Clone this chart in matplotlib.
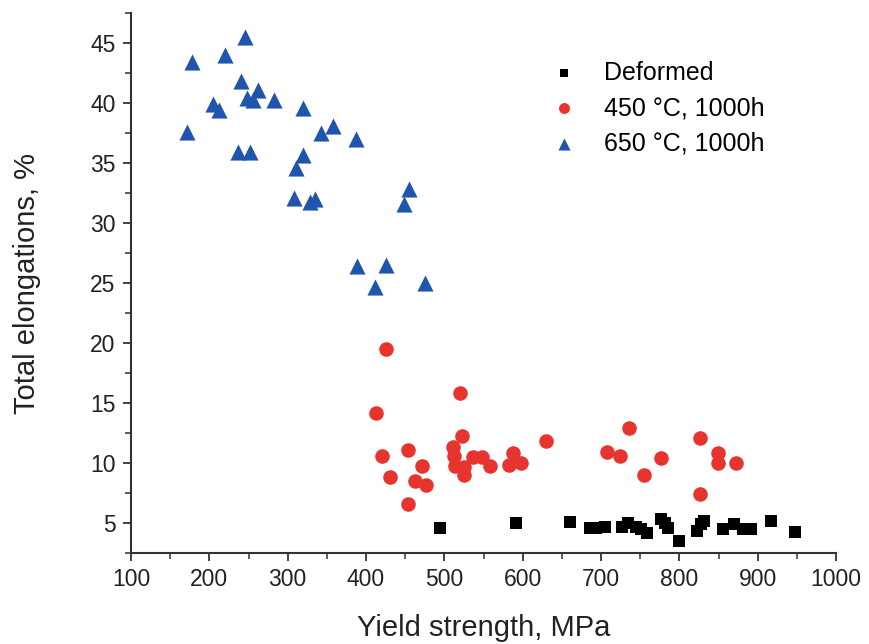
import matplotlib
matplotlib.use("Agg")
import matplotlib.pyplot as plt
from matplotlib.ticker import MultipleLocator

plt.rcParams['font.family'] = ['Liberation Sans', 'DejaVu Sans']

# Deformed
def_x = [495, 592, 660, 686, 694, 705, 727, 735, 744, 751, 759, 776, 781, 785, 800,
         823, 828, 832, 856, 870, 881, 891, 917, 948]
def_y = [4.6, 5.0, 5.1, 4.6, 4.6, 4.7, 4.7, 5.0, 4.7, 4.5, 4.2, 5.3, 5.0, 4.6, 3.5,
         4.3, 4.9, 5.2, 4.5, 4.95, 4.5, 4.5, 5.2, 4.25]

# 450 C, 1000h
h450_x = [426, 520, 413, 522, 630, 421, 453, 471, 431, 463, 477, 453, 511, 512, 514,
          525, 525, 537, 548, 558, 587, 583, 598, 736, 707, 724, 755, 777, 826, 849,
          849, 872, 826]
h450_y = [19.5, 15.8, 14.2, 12.25, 11.8, 10.6, 11.1, 9.75, 8.8, 8.5, 8.2, 6.55, 11.35, 10.6, 9.75,
          9.65, 9.0, 10.5, 10.5, 9.75, 10.8, 9.8, 10.0, 12.95, 10.95, 10.6, 8.97, 10.4, 12.05, 10.8,
          10.0, 10.0, 7.4]

# 650 C, 1000h
h650_x = [178, 220, 245, 172, 205, 212, 241, 248, 256, 262, 283, 320, 236, 252, 342,
          358, 387, 320, 310, 308, 329, 335, 448, 455, 389, 425, 411, 475]
h650_y = [43.4, 44.0, 45.5, 37.6, 39.9, 39.4, 41.8, 40.4, 40.25, 41.05, 40.25, 39.6, 35.9, 35.9, 37.5,
          38.1, 37.0, 35.7, 34.6, 32.1, 31.75, 32.0, 31.6, 32.8, 26.4, 26.5, 24.7, 25.0]

fig = plt.figure(figsize=(8.7, 6.44), dpi=100)
ax = fig.add_axes([0.1506, 0.1413, 0.8104, 0.8385])

ax.scatter(def_x, def_y, marker='s', s=65, color='#000000', linewidths=0, label='Deformed', zorder=3)
ax.scatter(h450_x, h450_y, marker='o', s=110, color='#e8342f', linewidths=0, label='450 °C, 1000h', zorder=3)
ax.scatter(h650_x, h650_y, marker='^', s=135, color='#1f55ad', linewidths=0, label='650 °C, 1000h', zorder=3)

ax.set_xlim(100, 1000)
ax.set_ylim(2.5, 47.5)
ax.xaxis.set_major_locator(MultipleLocator(100))
ax.xaxis.set_minor_locator(MultipleLocator(50))
ax.yaxis.set_minor_locator(MultipleLocator(2.5))
ax.set_yticks([5, 10, 15, 20, 25, 30, 35, 40, 45])

for s in ['top', 'right']:
    ax.spines[s].set_visible(False)
for s in ['left', 'bottom']:
    ax.spines[s].set_color('#333333')
    ax.spines[s].set_linewidth(1.5)

ax.tick_params(which='major', direction='out', length=6, width=1.3, color='#333333',
               labelsize=16.5, labelcolor='#222222', pad=5)
ax.tick_params(which='minor', direction='out', length=4, width=1.1, color='#333333')

ax.set_xlabel('Yield strength, MPa', fontsize=21, color='#222222')
ax.set_ylabel('Total elongations, %', fontsize=21, color='#222222')
ax.xaxis.set_label_coords(0.5, -0.113)
ax.yaxis.set_label_coords(-0.128, 0.5)

leg = ax.legend(loc='upper left', bbox_to_anchor=(0.565, 0.93), frameon=False, fontsize=18,
                handletextpad=0.6, labelspacing=0.45, markerscale=0.75, borderaxespad=0)

fig.savefig('out.png', dpi=100)
